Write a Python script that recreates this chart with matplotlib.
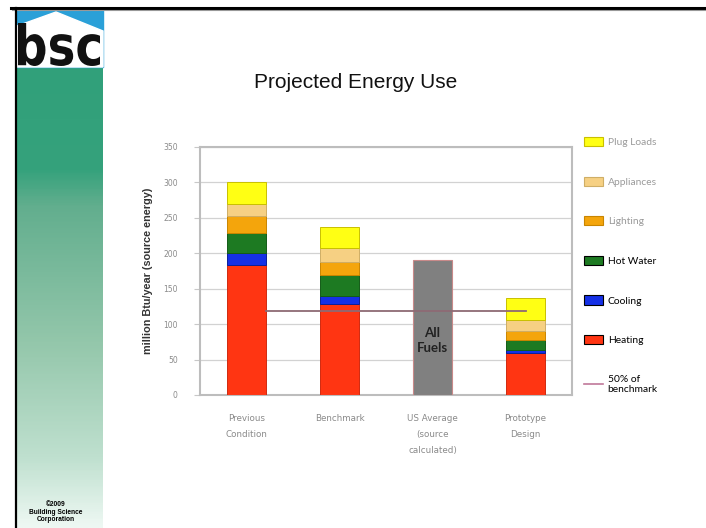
import numpy as np
import matplotlib
matplotlib.use("Agg")
import matplotlib.pyplot as plt
from matplotlib.patches import Rectangle, Polygon, PathPatch, Patch
from matplotlib.lines import Line2D
from matplotlib.textpath import TextPath
from matplotlib.font_manager import FontProperties
from matplotlib.transforms import Affine2D
from matplotlib.colors import LinearSegmentedColormap

# categories and end uses (million Btu/year, source energy)
categories = ["Previous\nCondition", "Benchmark", "US Average\n(source\ncalculated)", "Prototype\nDesign"]
end_uses = ["Heating", "Cooling", "Hot Water", "Lighting", "Appliances", "Plug Loads"]
heating = [184, 129, 0, 59]
cooling = [16, 11, 0, 4]
hot_water = [29, 29, 0, 14]
lighting = [24, 18, 0, 14]
appliances = [17, 20, 0, 15]
plug_loads = [30, 30, 0, 31]
all_fuels = [0, 0, 190, 0]
benchmark_half = 118.5

colors = ["#ff3512", "#1530e6", "#1d7a22", "#f4a50c", "#f6d083", "#ffff14"]
edges = ["#d02a10", "#0a1f9a", "#145c18", "#c98500", "#cfae66", "#c9c000"]

fig = plt.figure(figsize=(7.06, 5.28), dpi=100)

# slide decoration in pixel coordinates
deco = fig.add_axes([0, 0, 1, 1])
deco.set_xlim(0, 706)
deco.set_ylim(528, 0)
deco.axis("off")

grad = LinearSegmentedColormap.from_list(
    "panel", [(0, "#31a07a"), (0.22, "#35a27c"), (0.3, "#62ae8e"),
              (0.6, "#94c7ab"), (0.85, "#bfe0cf"), (1, "#eef8f3")])
deco.imshow(np.linspace(0, 1, 200)[:, None], cmap=grad, aspect="auto",
            extent=[17, 103, 528, 67], zorder=1)
deco.add_patch(Rectangle((17, 9), 86, 58, color="#2aa0d8", zorder=1))
deco.add_patch(Polygon([(17, 26), (56, 12), (103, 31), (103, 67), (17, 67)],
                       closed=True, color="white", zorder=2))
tp = TextPath((0, 0), "bsc", size=1, prop=FontProperties(family="DejaVu Sans", weight="bold"))
ext = tp.get_extents()
sx = 82 / ext.width
sy = 43 / ext.height
tr = Affine2D().translate(-ext.x0, -ext.y0).scale(sx, -sy).translate(18, 66)
deco.add_patch(PathPatch(tr.transform_path(tp), color="#111111", lw=0, zorder=3))
deco.plot([11, 706], [8, 8], color="black", lw=2.2, zorder=4)
deco.plot([12, 706], [10, 10], color="#999999", lw=0.8, zorder=4)
deco.plot([16, 16], [8, 528], color="black", lw=1.6, zorder=4)
deco.text(56, 512, "©2009\nBuilding Science\nCorporation", ha="center", va="center",
          fontsize=4.8, fontweight="bold", family="Liberation Sans", linespacing=1.15)
deco.text(356, 82, "Projected Energy Use", ha="center", va="center",
          fontsize=15, family="Liberation Sans", color="#111111")

# stacked bar chart
ax = fig.add_axes([200 / 706, 133 / 528, 372 / 706, 248 / 528])
x = np.arange(len(categories))
w = 0.42
series = [heating, cooling, hot_water, lighting, appliances, plug_loads]
bottom = np.zeros(len(categories))
for vals, c, ec, name in zip(series, colors, edges, end_uses):
    ax.bar(x, vals, w, bottom=bottom, color=c, edgecolor=ec, linewidth=0.7, zorder=3, label=name)
    bottom += np.array(vals)
ax.bar(x, all_fuels, w, color="#808080", edgecolor="#c98a8a", linewidth=0.8, zorder=3)
ax.text(x[2], 77, "All\nFuels", ha="center", va="center", fontsize=9.5,
        fontweight="bold", family="Lato", color="#222222", zorder=4, linespacing=1.25)
ax.plot([x[0] + w / 2, x[3]], [benchmark_half, benchmark_half],
        color="#8e6a74", lw=1.3, zorder=4)

ax.set_xlim(-0.5, 3.5)
ax.set_ylim(0, 350)
ax.set_yticks(np.arange(0, 351, 50))
ax.set_xticks(x)
ax.set_xticklabels(categories, fontsize=6.3, color="#8a8a8a", linespacing=1.95)
ax.tick_params(axis="y", labelsize=5.5, labelcolor="#8a8a8a", length=4, color="#c8c8c8", pad=12)
ax.tick_params(axis="x", length=0, pad=14)
ax.grid(axis="y", color="#d2d2d2", lw=0.9, zorder=0)
for s in ax.spines.values():
    s.set_color("#bdbdbd")
    s.set_linewidth(1.5)
ax.set_ylabel("million Btu/year (source energy)", fontsize=7.8, fontweight="bold",
              color="#333333", labelpad=7, family="Liberation Sans")

handles = [Patch(facecolor=colors[i], edgecolor=("black" if i < 3 else edges[i]), lw=0.8)
           for i in range(5, -1, -1)]
handles.append(Line2D([], [], color="#c0789a", lw=1.2))
labels = end_uses[::-1] + ["50% of\nbenchmark"]
leg = fig.legend(handles, labels, loc="upper left", bbox_to_anchor=(584 / 706, 1 - 137 / 528),
                 frameon=False, prop={"family": "Lato", "size": 7.4},
                 handlelength=1.8, handleheight=1.0, handletextpad=0.5,
                 labelspacing=2.87, borderaxespad=0, borderpad=0)
for t in leg.get_texts()[:3]:
    t.set_color("#9a9a9a")

fig.savefig("out.png", dpi=100)
